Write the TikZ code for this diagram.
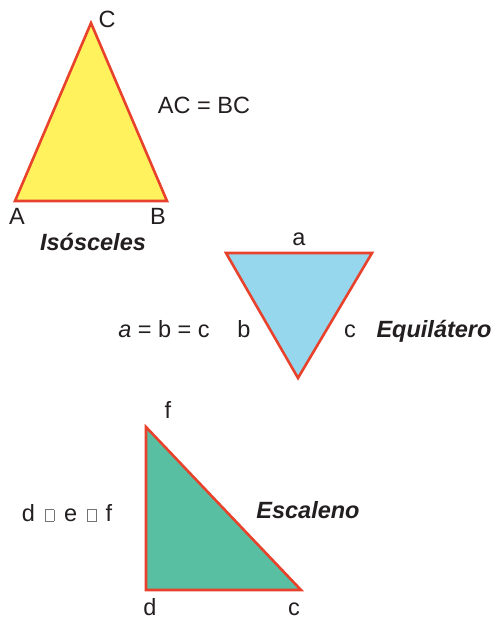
\documentclass[tikz,border=0pt]{standalone}
\usepackage{fontspec}
\setmainfont{Liberation Sans}
\usepackage{tikz}
\usetikzlibrary{positioning}
\definecolor{edgered}{RGB}{232,66,44}
\definecolor{isofill}{RGB}{255,242,92}
\definecolor{equifill}{RGB}{150,215,238}
\definecolor{escfill}{RGB}{88,191,162}
\definecolor{txt}{RGB}{35,31,32}
\newcommand{\missbox}{{\color{black!55}\setlength{\fboxsep}{0pt}\setlength{\fboxrule}{0.6pt}\fbox{\rule{0pt}{11pt}\hspace{8pt}}}}
\tikzset{
  tri/.style={draw=edgered, line width=2.6pt, line join=miter},
  lbl/.style={font=\fontsize{23.5}{28}\selectfont, text=txt, inner sep=0pt, anchor=base},
  kind/.style={lbl, font=\fontsize{23.5}{28}\selectfont\bfseries\itshape}
}

\begin{document}
\begin{tikzpicture}[x=1pt, y=-1pt]
  \useasboundingbox (0,0) rectangle (497,618);
  % isosceles
  \coordinate (iA) at (15,201);
  \coordinate (iB) at (167,201);
  \coordinate (iC) at (91,23);
  \draw[tri, fill=isofill] (iA) -- (iB) -- (iC) -- cycle;
  \node[lbl] (labC) at (107,28) {C};
  \node[lbl] (labA) at (17,224) {A};
  \node[lbl] (labB) at (158,224) {B};
  \node[lbl] (isoeq) at (204,113) {AC = BC};
  \node[kind] (iso) at (93,250) {Isósceles};
  % equilateral
  \coordinate (eL) at (226,253);
  \coordinate (eR) at (372,253);
  \coordinate (eB) at (298,378);
  \draw[tri, fill=equifill] (eL) -- (eR) -- (eB) -- cycle;
  \node[lbl] (laba) at (299,245) {a};
  \node[lbl] (labb) at (244,337) {b};
  \node[lbl] (labc) at (350,337) {c};
  \node[lbl] (equieq) at (164,337) {\textit{a} = b = c};
  \node[kind] (equi) at (434,337) {Equilátero};
  % scalene
  \coordinate (sF) at (146,427);
  \coordinate (sD) at (146,590);
  \coordinate (sC) at (301,590);
  \draw[tri, fill=escfill] (sF) -- (sD) -- (sC) -- cycle;
  \node[lbl] (labf) at (168,418) {f};
  \node[lbl] (labd) at (150,615) {d};
  \node[lbl] (labc2) at (294,615) {c};
  \node[lbl] (esceq) at (67,521) {d\hspace{10pt}\missbox\hspace{10pt}e\hspace{10pt}\missbox\hspace{9pt}f};
  \node[kind] (esc) at (308,518) {Escaleno};
\end{tikzpicture}
\end{document}
